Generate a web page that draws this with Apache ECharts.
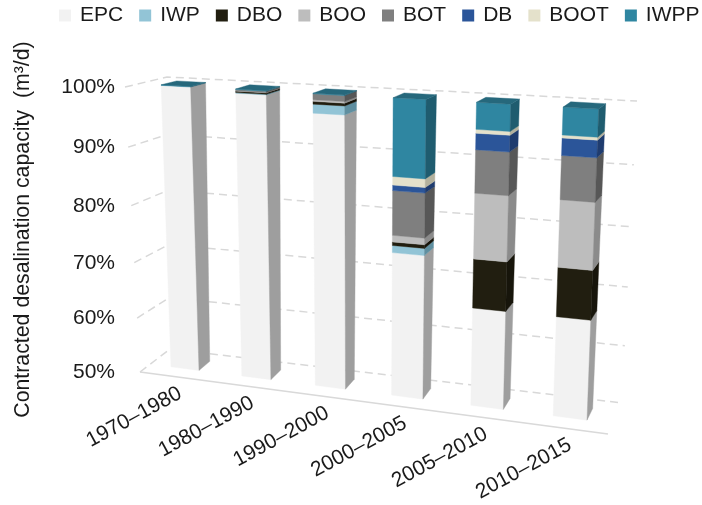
<!DOCTYPE html>
<html>
<head>
<meta charset="utf-8">
<style>html,body{margin:0;padding:0;background:#fff}#chart{width:702px;height:505px}</style>
<script src="https://cdn.jsdelivr.net/npm/echarts@6/dist/echarts.min.js"></script>
</head>
<body>
<div id="chart"></div>
<script>
// Contract shares per period, in percent
const periods = ['1970–1980', '1980–1990', '1990–2000', '2000–2005', '2005–2010', '2010–2015'];
const EPC  = [99.9, 99.3, 96.8, 74.8, 66.8, 66.8];
const IWP  = [0, 0.1, 1.45, 1.2, 0, 0];
const DBO  = [0, 0.25, 0.45, 0.6, 8.2, 8.1];
const BOO  = [0, 0.05, 0.25, 1.1, 10.7, 10.8];
const BOT  = [0, 0.2, 0.95, 7.4, 6.9, 6.9];
const DB   = [0, 0, 0, 0.9, 2.6, 2.7];
const BOOT = [0, 0, 0, 1.4, 0.6, 0.45];
const IWPP = [0.1, 0.1, 0.1, 12.6, 4.2, 4.25];
const valueTicks = [50, 60, 70, 80, 90, 100];
const tickLabels = ['50%', '60%', '70%', '80%', '90%', '100%'];

const stackDefs = [
  { name: 'EPC',  values: EPC,  front: '#f2f2f2', side: '#9e9e9e' },
  { name: 'IWP',  values: IWP,  front: '#92c4d6', side: '#5f8fa0' },
  { name: 'DBO',  values: DBO,  front: '#211e10', side: '#17150b' },
  { name: 'BOO',  values: BOO,  front: '#bdbdbd', side: '#8b8b8b' },
  { name: 'BOT',  values: BOT,  front: '#7f7f7f', side: '#575757' },
  { name: 'DB',   values: DB,   front: '#2b5599', side: '#1f3c6f' },
  { name: 'BOOT', values: BOOT, front: '#e4e1cb', side: '#b3b19d' },
  { name: 'IWPP', values: IWPP, front: '#2f86a1', side: '#1f5c6f', top: '#26687c' }
];

// Box corners of the oblique view, as [x, y] on screen: floor/top, front/back, left/right
const box = {
  floorFrontLeft: [140, 372], floorFrontRight: [608, 434],
  floorBackLeft: [170, 349],  floorBackRight: [622, 403],
  topFrontLeft: [125, 87],    topFrontRight: [620, 115.5],
  topBackLeft: [167, 77],     topBackRight: [637, 101]
};
const FORESHORTEN_X = 1.12, FORESHORTEN_Y = 1.07;
const BAR_DEPTH = [0.34, 0.72];
const BAR_WIDTH = 0.4;

const lerp = (a, b, k) => [a[0] + (b[0] - a[0]) * k, a[1] + (b[1] - a[1]) * k];

// Maps normalised plot position (t across, s up, d into the page) to the screen
function project(t, s, d) {
  const u = t / (t + FORESHORTEN_X * (1 - t));
  const v = s / (s + FORESHORTEN_Y * (1 - s));
  const floorFront = lerp(box.floorFrontLeft, box.floorFrontRight, u);
  const floorBack = lerp(box.floorBackLeft, box.floorBackRight, u);
  const topFront = lerp(box.topFrontLeft, box.topFrontRight, u);
  const topBack = lerp(box.topBackLeft, box.topBackRight, u);
  return lerp(lerp(floorFront, floorBack, d), lerp(topFront, topBack, d), v);
}

// Normalises a value-axis/category position through the grid's scales
function normaliser(params, api) {
  const r = params.coordSys;
  return (cat, val, shift) => {
    const p = api.coord([cat, val]);
    return [(p[0] - r.x) / r.width + (shift || 0), (r.y + r.height - p[1]) / r.height];
  };
}

function renderSegment(def) {
  return (params, api) => {
    const cat = api.value(0), from = Math.max(api.value(1), 50), to = api.value(2);
    if (to <= from) return null;
    const norm = normaliser(params, api);
    const halfWidth = api.size([1, 0])[0] / params.coordSys.width * BAR_WIDTH / 2;
    const [t0, s0] = norm(cat, from, -halfWidth);
    const [t1, s1] = norm(cat, to, halfWidth);
    const [dF, dB] = BAR_DEPTH;
    const poly = (points, color) => ({
      type: 'polygon',
      shape: { points },
      style: { fill: color, stroke: color, lineWidth: 0.4 }
    });
    const children = [
      poly([project(t0, s0, dF), project(t1, s0, dF), project(t1, s1, dF), project(t0, s1, dF)], def.front),
      poly([project(t1, s0, dF), project(t1, s0, dB), project(t1, s1, dB), project(t1, s1, dF)], def.side)
    ];
    if (def.top) {
      children.push(poly([project(t0, s1, dF), project(t1, s1, dF), project(t1, s1, dB), project(t0, s1, dB)], def.top));
    }
    return { type: 'group', children };
  };
}

function renderGridLine(params, api) {
  const norm = normaliser(params, api);
  const s = norm(0, api.value(0))[1];
  return {
    type: 'polyline',
    shape: { points: [project(0, s, 0), project(0, s, 1), project(1, s, 1)] },
    style: { fill: 'none', stroke: '#d8d8d8', lineWidth: 1.5, lineDash: [8, 5] }
  };
}

function renderFloorEdge() {
  return {
    type: 'line',
    shape: { x1: box.floorFrontLeft[0], y1: box.floorFrontLeft[1], x2: box.floorFrontRight[0], y2: box.floorFrontRight[1] },
    style: { stroke: '#d9d9d9', lineWidth: 1.6 }
  };
}

function renderTickLabel(params, api) {
  const s = normaliser(params, api)(0, api.value(0))[1];
  return {
    type: 'text',
    x: 115,
    y: project(0, s, 0)[1] + 0.5,
    style: { text: tickLabels[params.dataIndex], align: 'right', verticalAlign: 'middle',
             fontFamily: 'Liberation Sans', fontSize: 21, fill: '#1a1a1a' }
  };
}

function renderPeriodLabel(params, api) {
  const cat = api.value(0);
  const r = params.coordSys;
  const t = (api.coord([cat, 50])[0] - r.x) / r.width;
  const p = project(t, 0, 0);
  return {
    type: 'text',
    x: p[0] - 41,
    y: p[1] + 40.5,
    rotation: 28.5 * Math.PI / 180,
    style: { text: periods[cat], align: 'center', verticalAlign: 'middle',
             fontFamily: 'Liberation Sans', fontSize: 21, fill: '#1a1a1a' }
  };
}

const helperSeries = (render, data, z) => ({
  type: 'custom', renderItem: render, data, silent: true, z, clip: false,
  encode: { x: 0, y: 0 }
});

const stackSeries = stackDefs.map((def, idx) => {
  const data = periods.map((_, i) => {
    let base = 0;
    for (let k = 0; k < idx; k++) base += stackDefs[k].values[i];
    return [i, base, base + def.values[i]];
  });
  return {
    name: def.name, type: 'custom', renderItem: renderSegment(def), data,
    itemStyle: { color: def.front }, silent: true, z: 5, clip: false,
    encode: { x: 0, y: 2 }
  };
});

const chart = echarts.init(document.getElementById('chart'), null, { renderer: 'canvas' });
chart.setOption({
  animation: false,
  backgroundColor: '#fff',
  grid: { left: 140, right: 62, top: 87, bottom: 133 },
  legend: {
    data: stackDefs.map(d => d.name),
    left: 54, top: 0, width: 670,
    padding: [5, 0, 5, 5],
    icon: 'rect', itemWidth: 12, itemHeight: 12, itemGap: 16,
    selectedMode: false,
    textStyle: { fontFamily: 'Liberation Sans', fontSize: 21, color: '#1a1a1a', padding: [3, 0, 0, 4] }
  },
  xAxis: { type: 'category', data: periods, axisLine: { show: false }, axisTick: { show: false },
           axisLabel: { show: false }, splitLine: { show: false } },
  yAxis: {
    type: 'value', min: 50, max: 100, interval: 10,
    axisLine: { show: false }, axisTick: { show: false }, axisLabel: { show: false }, splitLine: { show: false },
    name: 'Contracted desalination capacity  (m³/d)',
    nameLocation: 'middle', nameGap: 106, nameRotate: 90,
    nameTextStyle: { fontFamily: 'Liberation Sans', fontSize: 21.3, color: '#1a1a1a' }
  },
  series: [
    helperSeries(renderGridLine, valueTicks.map(v => [v]), 1),
    helperSeries(renderFloorEdge, [[50]], 2),
    helperSeries(renderTickLabel, valueTicks.map(v => [v]), 6),
    Object.assign(helperSeries(renderPeriodLabel, periods.map((_, i) => [i]), 6), { encode: { x: 0 } })
  ].concat(stackSeries)
});
</script>
</body>
</html>
